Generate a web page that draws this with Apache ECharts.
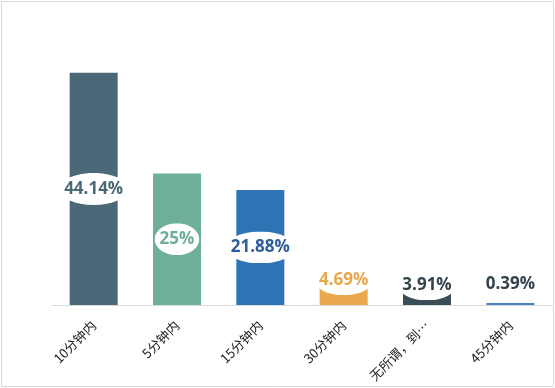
<!DOCTYPE html>
<html>
<head>
<meta charset="utf-8">
<script src="https://cdn.jsdelivr.net/npm/echarts@6/dist/echarts.min.js"></script>
<style>
html,body{margin:0;padding:0;background:#fff;}
#chart{width:555px;height:388px;}
</style>
</head>
<body>
<div id="chart"></div>
<script>
var categories = ['10分钟内', '5分钟内', '15分钟内', '30分钟内', '无所谓，到…', '45分钟内'];
var values = [44.14, 25, 21.88, 4.69, 3.91, 0.39];
var barColors = ['#4a6878', '#6daf9a', '#2e74b5', '#e9a84c', '#3b4d57', '#4a7fc1'];
var labelColors = ['#4a6878', '#6daf9a', '#2f5c9c', '#e9a84c', '#34434c', '#34434c'];
// label placement per bar: [position, distance]
var labelPlace = [['inside', 0], ['inside', 0], ['inside', 0], ['top', -15], ['top', -16], ['top', 3]];

var ellipse = 'data:image/svg+xml;charset=utf-8,' + encodeURIComponent(
  '<svg xmlns="http://www.w3.org/2000/svg" width="100" height="50" viewBox="0 0 100 50" preserveAspectRatio="none"><ellipse cx="50" cy="25" rx="50" ry="25" fill="#ffffff"/></svg>');

var seriesData = values.map(function (v, i) {
  return {
    value: v,
    itemStyle: { color: barColors[i] },
    label: {
      position: labelPlace[i][0],
      distance: labelPlace[i][1],
      color: labelColors[i]
    }
  };
});

var chart = echarts.init(document.getElementById('chart'), null, { renderer: 'canvas' });
chart.setOption({
  animation: false,
  backgroundColor: '#ffffff',
  grid: { left: 52, right: 3, top: 42, bottom: 83, containLabel: false },
  xAxis: {
    type: 'category',
    data: categories,
    axisLine: { show: true, lineStyle: { color: '#d9d9d9', width: 1 } },
    axisTick: { show: false },
    axisLabel: {
      rotate: 45,
      interval: 0,
      margin: 18,
      color: '#222',
      fontSize: 13,
      fontFamily: 'Noto Sans CJK SC'
    }
  },
  yAxis: {
    type: 'value',
    min: 0,
    max: 50,
    show: false,
    splitLine: { show: false }
  },
  series: [{
    type: 'bar',
    data: seriesData,
    barWidth: 48,
    label: {
      show: true,
      formatter: function (p) { return p.value + '%'; },
      fontSize: 17,
      fontWeight: 'bold',
      fontFamily: 'Open Sans',
      backgroundColor: { image: ellipse },
      padding: [8, 5, 7, 5]
    }
  }],
  graphic: [{
    type: 'rect',
    shape: { x: 1.5, y: 1.5, width: 552, height: 385 },
    style: { fill: 'none', stroke: '#d9d9d9', lineWidth: 1 },
    silent: true
  }]
});
</script>
</body>
</html>
